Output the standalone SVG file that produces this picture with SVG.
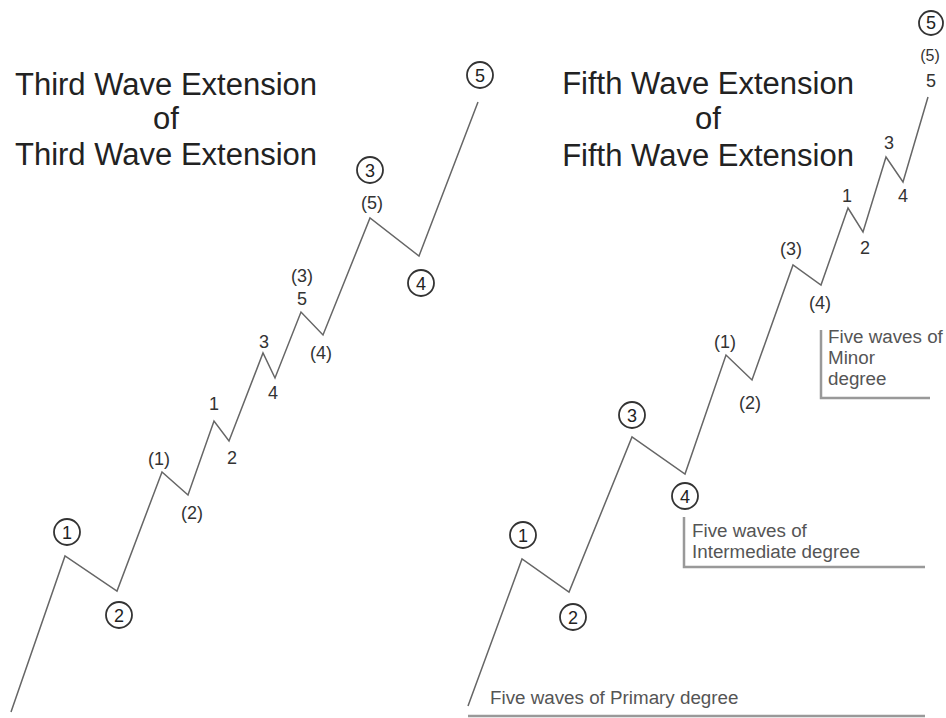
<svg xmlns="http://www.w3.org/2000/svg" width="946" height="718" viewBox="0 0 946 718">
<style>
.title{font-family:"Liberation Sans",Arial,sans-serif;font-size:31px;fill:#222;text-anchor:middle}
.lbl{font-family:"Liberation Sans",Arial,sans-serif;font-size:18px;fill:#333;text-anchor:middle}
.cnum{font-family:"Liberation Sans",Arial,sans-serif;font-size:18px;fill:#222;text-anchor:middle}
.circ{fill:none;stroke:#333;stroke-width:1.8}
.wave{fill:none;stroke:#666;stroke-width:1.5;stroke-linejoin:miter}
.note{font-family:"Liberation Sans",Arial,sans-serif;font-size:18.8px;fill:#555}
.box{fill:none;stroke:#999;stroke-width:2.5}
</style>
<rect width="946" height="718" fill="#fff"/>
<g id="titles">
<text class="title" x="166" y="95">Third Wave Extension</text>
<text class="title" x="166" y="129">of</text>
<text class="title" x="166" y="165">Third Wave Extension</text>
<text class="title" x="708" y="94">Fifth Wave Extension</text>
<text class="title" x="708" y="129">of</text>
<text class="title" x="708" y="166">Fifth Wave Extension</text>
</g>
<g id="connectors">
<polyline class="wave" points="11,712 65,556 117,591 162,472 188,495 214,421 229,441 263,353 275,378 301,312 323,335 370,218 419,256 478,102"/>
<polyline class="wave" points="468,706 522,559 569,592 632,437 685,474 726,355 752,380 793,265 821,285 848,208 863,232 886,157 903,182 928,97"/>
<polyline class="box" points="821,330 821,398 930,398"/>
<polyline class="box" points="684,517 684,567 925,567"/>
<line class="box" x1="468" y1="716" x2="925" y2="716"/>
</g>
<g id="left-labels">
<g id="L1"><circle class="circ" cx="67" cy="532" r="13"/><text class="cnum" x="67" y="538.5">1</text></g>
<g id="L2"><circle class="circ" cx="119" cy="615" r="13"/><text class="cnum" x="119" y="621.5">2</text></g>
<g id="L3"><circle class="circ" cx="370" cy="170" r="13"/><text class="cnum" x="370" y="176.5">3</text></g>
<g id="L4"><circle class="circ" cx="421" cy="283" r="13"/><text class="cnum" x="421" y="289.5">4</text></g>
<g id="L5"><circle class="circ" cx="480" cy="75" r="13"/><text class="cnum" x="480" y="81.5">5</text></g>
<text class="lbl" x="159" y="465">(1)</text>
<text class="lbl" x="192" y="519">(2)</text>
<text class="lbl" x="214" y="410">1</text>
<text class="lbl" x="232" y="464">2</text>
<text class="lbl" x="264" y="348">3</text>
<text class="lbl" x="273" y="399">4</text>
<text class="lbl" x="302" y="305">5</text>
<text class="lbl" x="302" y="282">(3)</text>
<text class="lbl" x="321" y="359">(4)</text>
<text class="lbl" x="372" y="209">(5)</text>
</g>
<g id="right-labels">
<g id="R1"><circle class="circ" cx="523" cy="535" r="13"/><text class="cnum" x="523" y="541.5">1</text></g>
<g id="R2"><circle class="circ" cx="573" cy="617" r="13"/><text class="cnum" x="573" y="623.5">2</text></g>
<g id="R3"><circle class="circ" cx="632" cy="415" r="13"/><text class="cnum" x="632" y="421.5">3</text></g>
<g id="R4"><circle class="circ" cx="685" cy="496" r="13"/><text class="cnum" x="685" y="502.5">4</text></g>
<g id="R5"><circle class="circ" cx="931" cy="23" r="12"/><text class="cnum" x="931" y="29">5</text></g>
<text class="lbl" x="725" y="348">(1)</text>
<text class="lbl" x="750" y="409">(2)</text>
<text class="lbl" x="791" y="255">(3)</text>
<text class="lbl" x="820" y="309">(4)</text>
<text class="lbl" x="847" y="202">1</text>
<text class="lbl" x="865" y="254">2</text>
<text class="lbl" x="889" y="149">3</text>
<text class="lbl" x="903" y="202">4</text>
<text class="lbl" x="931" y="87">5</text>
<text class="lbl" x="930" y="61" style="font-size:16px">(5)</text>
</g>
<g id="notes">
<text class="note" x="828" y="343">Five waves of</text>
<text class="note" x="828" y="364">Minor</text>
<text class="note" x="828" y="385">degree</text>
<text class="note" x="692" y="537">Five waves of</text>
<text class="note" x="692" y="558">Intermediate degree</text>
<text class="note" x="490" y="704">Five waves of Primary degree</text>
</g>
</svg>
